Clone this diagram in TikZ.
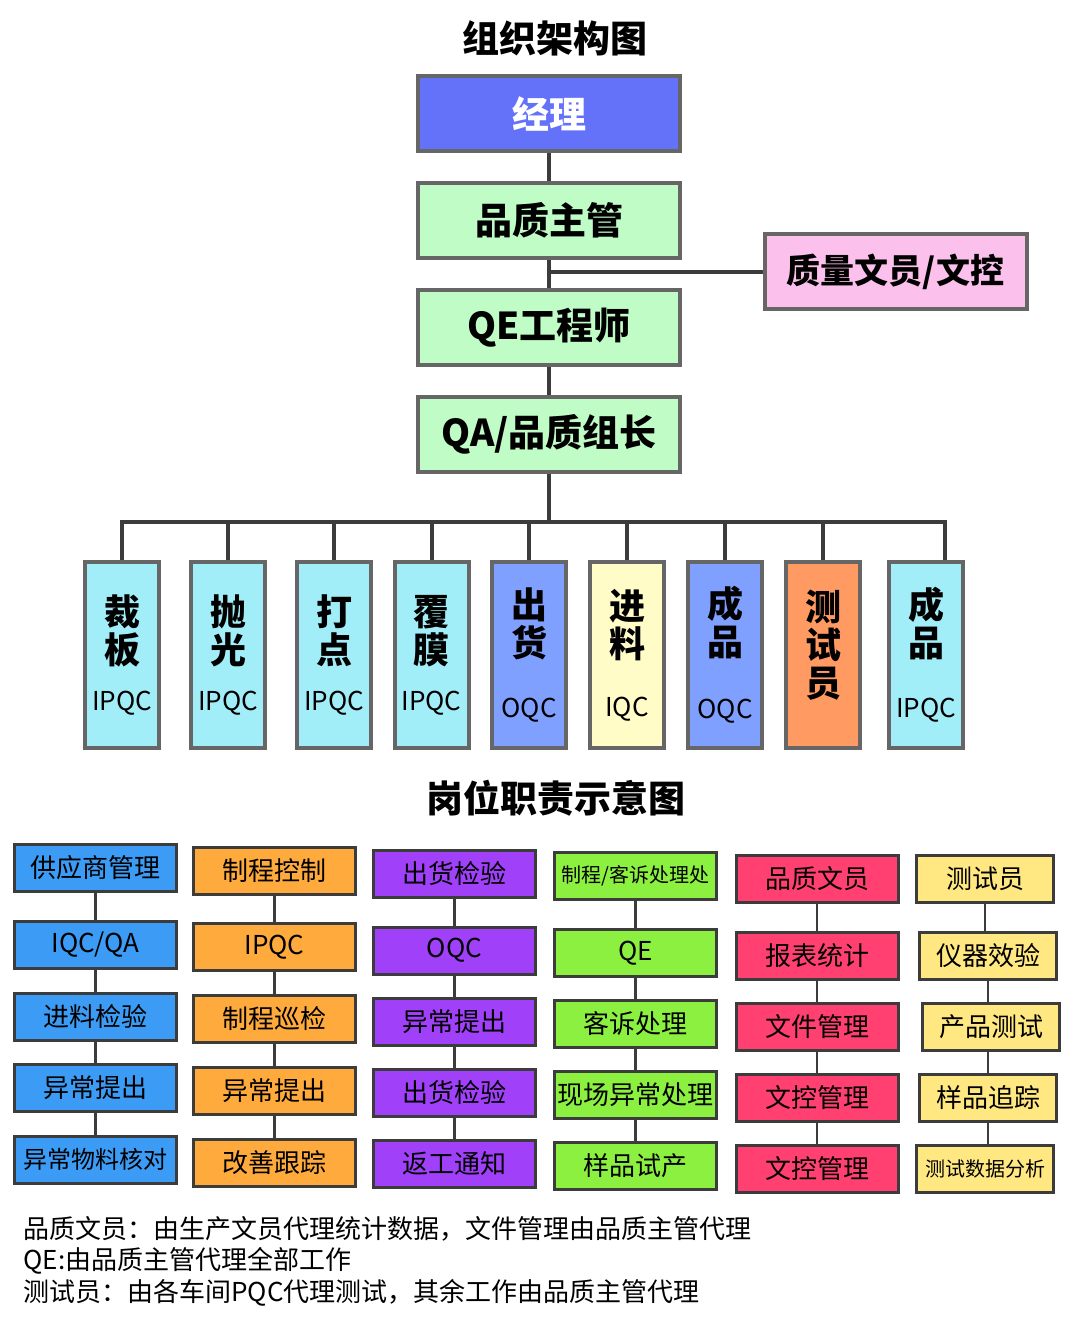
\documentclass[tikz,border=0pt]{standalone}
\usepackage{fontspec}
\setmainfont{Noto Sans CJK SC}
\usetikzlibrary{positioning}

\definecolor{boxgray}{HTML}{666666}
\definecolor{linegray}{HTML}{3C3C3C}
\definecolor{mgrblue}{HTML}{6472FA}
\definecolor{mintgreen}{HTML}{C0FCC6}
\definecolor{lightpink}{HTML}{FCC0EC}
\definecolor{lightcyan}{HTML}{A2EEF8}
\definecolor{skyblue}{HTML}{80A0FF}
\definecolor{cream}{HTML}{FFFCC8}
\definecolor{salmon}{HTML}{FF9A62}
\definecolor{dutyblue}{HTML}{3C9CF5}
\definecolor{dutyorange}{HTML}{FFAA3C}
\definecolor{dutypurple}{HTML}{A040F8}
\definecolor{dutygreen}{HTML}{8CF040}
\definecolor{dutyred}{HTML}{FF4070}
\definecolor{dutyyellow}{HTML}{FFE882}

\newcommand{\postlabel}[1]{{\mdseries\fontsize{26}{28}\selectfont #1}}

\begin{document}
\begin{tikzpicture}[x=1pt, y=-1pt,
            rankbox/.style={rectangle, draw=boxgray, line width=4pt, minimum width=262pt, minimum height=75pt, inner sep=0pt, font=\bfseries\fontsize{37}{40}\selectfont},
            postbox/.style={rectangle, draw=boxgray, line width=4pt, minimum width=74pt, minimum height=186pt, inner sep=0pt, align=center, font=\bfseries\fontsize{36}{38}\selectfont},
            dutybox/.style={rectangle, draw=linegray, line width=3pt, minimum width=162pt, minimum height=47pt, inner sep=0pt, font=\fontsize{26}{28}\selectfont},
            orgline/.style={draw=linegray, line width=4pt},
            dutyline/.style={draw=linegray, line width=2.5pt},
            heading/.style={font=\bfseries\fontsize{37}{40}\selectfont},
        ]
        \useasboundingbox[fill=white] (0,0) rectangle (1080,1333);

        % organisation chart
        \node[heading] (title1) at (555,38) {组织架构图};
        \node[rankbox, fill=mgrblue, text=white] (mgr) at (549,113.5) {经理};
        \node[rankbox, fill=mintgreen] (sup) [below=28pt of mgr] {品质主管};
        \node[rankbox, fill=mintgreen] (qe) [below=28pt of sup] {QE工程师};
        \node[rankbox, fill=mintgreen] (qa) [below=28pt of qe] {QA/品质组长};
        \node[rankbox, fill=lightpink, font=\bfseries\fontsize{34}{38}\selectfont] (doc) at (895.5,271.5) {质量文员/文控};

        \node[postbox, fill=lightcyan] (cut) at (122,655) {裁\\板\\[9pt]\postlabel{IPQC}};
        \node[postbox, fill=lightcyan] (polish) at (228,655) {抛\\光\\[9pt]\postlabel{IPQC}};
        \node[postbox, fill=lightcyan] (dot) at (334,655) {打\\点\\[9pt]\postlabel{IPQC}};
        \node[postbox, fill=lightcyan] (film) at (431.5,655) {覆\\膜\\[9pt]\postlabel{IPQC}};
        \node[postbox, fill=skyblue] (ship) at (529,655) {出\\货\\[23pt]\postlabel{OQC}};
        \node[postbox, fill=cream] (incoming) at (627,655) {进\\料\\[21pt]\postlabel{IQC}};
        \node[postbox, fill=skyblue] (fin1) at (725,655) {成\\品\\[25pt]\postlabel{OQC}};
        \node[postbox, fill=salmon, text depth=24pt] (tester) at (823,655) {测\\试\\员};
        \node[postbox, fill=lightcyan] (fin2) at (926,655) {成\\品\\[23pt]\postlabel{IPQC}};

        \coordinate (bus) at (549,522);
        \draw[orgline] (mgr) -- (sup);
        \draw[orgline] (sup) -- (qe);
        \draw[orgline] (qe) -- (qa);
        \draw[orgline] (doc.west) -- (doc.west -| sup.south);
        \draw[orgline] (qa) -- (bus);
        \draw[orgline] (cut.north) |- (bus) -| ([xshift=19pt]fin2.north);
        \draw[orgline] (polish.north |- bus) -- (polish.north);
        \draw[orgline] (dot.north |- bus) -- (dot.north);
        \draw[orgline] (film.north |- bus) -- (film.north);
        \draw[orgline] (ship.north |- bus) -- (ship.north);
        \draw[orgline] (incoming.north |- bus) -- (incoming.north);
        \draw[orgline] (fin1.north |- bus) -- (fin1.north);
        \draw[orgline] (tester.north |- bus) -- (tester.north);

        % duties
        \node[heading] (title2) at (556,798) {岗位职责示意图};

        \node[dutybox, fill=dutyblue] (sm) at (95.5,868) {供应商管理};
        \node[dutybox, fill=dutyblue] (iqcqa) [below=27pt of sm] {IQC/QA};
        \node[dutybox, fill=dutyblue] (inspin) [below=21.5pt of iqcqa] {进料检验};
        \node[dutybox, fill=dutyblue] (abn1) [below=21.5pt of inspin] {异常提出};
        \node[dutybox, fill=dutyblue, font=\fontsize{24}{26}\selectfont] (matchk) [below=21.5pt of abn1] {异常物料核对};

        \node[dutybox, fill=dutyorange] (pc) at (274.5,871) {制程控制};
        \node[dutybox, fill=dutyorange] (ipqc) [below=26pt of pc] {IPQC};
        \node[dutybox, fill=dutyorange] (patrol) [below=22pt of ipqc] {制程巡检};
        \node[dutybox, fill=dutyorange] (abn2) [below=22pt of patrol] {异常提出};
        \node[dutybox, fill=dutyorange] (improve) [below=22pt of abn2] {改善跟踪};

        \node[dutybox, fill=dutypurple] (outchk1) at (454.5,873.5) {出货检验};
        \node[dutybox, fill=dutypurple] (oqc) [below=27pt of outchk1] {OQC};
        \node[dutybox, fill=dutypurple] (abn3) [below=21pt of oqc] {异常提出};
        \node[dutybox, fill=dutypurple] (outchk2) [below=21pt of abn3] {出货检验};
        \node[dutybox, fill=dutypurple] (rework) [below=21pt of outchk2] {返工通知};

        \node[dutybox, fill=dutygreen, font=\fontsize{20}{22}\selectfont] (cc) at (635.5,876) {制程/客诉处理处};
        \node[dutybox, fill=dutygreen] (qeduty) [below=27pt of cc] {QE};
        \node[dutybox, fill=dutygreen] (complaint) [below=21pt of qeduty] {客诉处理};
        \node[dutybox, fill=dutygreen] (onsite) [below=21pt of complaint] {现场异常处理};
        \node[dutybox, fill=dutygreen] (trial) [below=21pt of onsite] {样品试产};

        \node[dutybox, fill=dutyred] (clerk) at (817,879) {品质文员};
        \node[dutybox, fill=dutyred] (report) [below=27pt of clerk] {报表统计};
        \node[dutybox, fill=dutyred] (files) [below=21pt of report] {文件管理};
        \node[dutybox, fill=dutyred] (dc1) [below=21pt of files] {文控管理};
        \node[dutybox, fill=dutyred] (dc2) [below=21pt of dc1] {文控管理};

        \node[dutybox, fill=dutyyellow, minimum width=137pt] (testman) at (985,879) {测试员};
        \node[dutybox, fill=dutyyellow, minimum width=137pt] (calib) [below=27pt of testman, xshift=3pt] {仪器效验};
        \node[dutybox, fill=dutyyellow, minimum width=137pt] (prodtest) [below=21pt of calib, xshift=3pt] {产品测试};
        \node[dutybox, fill=dutyyellow, minimum width=137pt] (track) [below=21pt of prodtest, xshift=-3pt] {样品追踪};
        \node[dutybox, fill=dutyyellow, minimum width=137pt, font=\fontsize{20}{22}\selectfont] (analysis) [below=21pt of track, xshift=-3pt] {测试数据分析};

        \draw[dutyline] (sm) -- (iqcqa);
        \draw[dutyline] (iqcqa) -- (inspin);
        \draw[dutyline] (inspin) -- (abn1);
        \draw[dutyline] (abn1) -- (matchk);
        \draw[dutyline] (pc) -- (ipqc);
        \draw[dutyline] (ipqc) -- (patrol);
        \draw[dutyline] (patrol) -- (abn2);
        \draw[dutyline] (abn2) -- (improve);
        \draw[dutyline] (outchk1) -- (oqc);
        \draw[dutyline] (oqc) -- (abn3);
        \draw[dutyline] (abn3) -- (outchk2);
        \draw[dutyline] (outchk2) -- (rework);
        \draw[dutyline] (cc) -- (qeduty);
        \draw[dutyline] (qeduty) -- (complaint);
        \draw[dutyline] (complaint) -- (onsite);
        \draw[dutyline] (onsite) -- (trial);
        \draw[dutyline] (clerk) -- (report);
        \draw[dutyline] (report) -- (files);
        \draw[dutyline] (files) -- (dc1);
        \draw[dutyline] (dc1) -- (dc2);
        \draw[dutyline] (testman.south) -- (testman.south |- calib.north);
        \draw[dutyline] (calib.south) -- (calib.south |- prodtest.north);
        \draw[dutyline] (prodtest.south -| track.north) -- (track.north);
        \draw[dutyline] (track.south) -- (track.south |- analysis.north);

        % notes
        \node[anchor=west, align=left, font=\fontsize{26}{31.5}\selectfont] (note) at (20,1261) {品质文员：由生产文员代理统计数据，文件管理由品质主管代理\\QE:由品质主管代理全部工作\\测试员：由各车间PQC代理测试，其余工作由品质主管代理};
    \end{tikzpicture}
\end{document}
